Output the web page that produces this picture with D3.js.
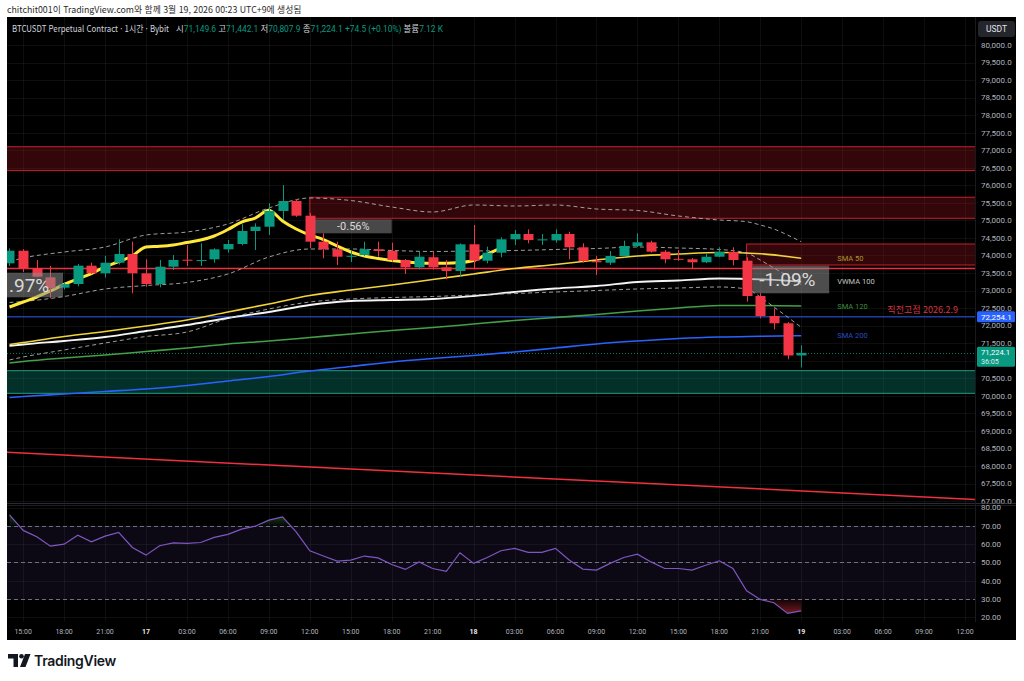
<!DOCTYPE html>
<html lang="ko">
<head>
<meta charset="utf-8">
<script src="https://cdn.jsdelivr.net/npm/d3@7/dist/d3.min.js"></script>
<style>
html,body{margin:0;padding:0;background:#fff;}
svg{display:block;}
</style>
</head>
<body>
<svg id="chart" width="1024" height="681"></svg>
<script>
// ---------------- DATA ----------------
// hour offsets relative to 2026-03-17 00:00 (UTC+9), 1h candles
const hours = d3.range(-10, 49);
const opens  = [73777,74136,73635,73378,73082,73187,73709,73492,73794,74042,
                73492,73187,73680,73880,73850,73891,74176,74327,74698,74820,
                75268,75553,75134,74393,74176,73965,74014,74176,74128,73871,
                73663,73950,73663,73558,74319,73851,74079,74461,74612,74430,
                74430,74612,74233,73843,73794,73985,74270,74375,74108,73905,
                73891,73806,73965,74099,73851,72845,72275,72067,71149.6];
const highs  = [74200,74180,73871,73700,73230,73760,73794,73985,74461,74393,
                73891,73871,74014,74299,74347,74205,74441,74889,74917,75487,
                76009,75610,75210,74632,74393,74136,74393,74393,74365,73900,
                74107,74107,73871,74347,74869,74250,74518,74727,74746,74612,
                74746,74678,74347,73985,74128,74422,74632,74422,74156,74156,
                73928,74061,74233,74233,73950,72922,72494,72100,71442.1];
const lows   = [73700,73529,73380,72779,73030,73120,73470,73367,73740,72922,
                73110,73093,73586,73700,73700,73794,74079,74290,74156,74584,
                75012,75100,74205,73920,73729,73814,73985,73965,73823,73472,
                73606,73600,73321,73395,73606,73777,73950,74299,74347,74299,
                74365,73891,73794,73443,73729,73950,74240,74080,73777,73850,
                73635,73780,73950,73720,72682,72209,71896,71040,70807.9];
const closes = [74136,73635,73395,73064,73187,73709,73492,73794,74042,73492,
                73187,73680,73871,73850,73870,74176,74327,74698,74820,75268,
                75553,75134,74393,74176,73965,73990,74176,74128,73871,73663,
                73965,73663,73558,74319,73851,74079,74461,74612,74441,74460,
                74612,74233,73843,73806,73985,74270,74375,74108,73891,73885,
                73806,73965,74099,73871,72845,72275,72067,71149.6,71224.1];
const volumeK = 7.12;

// fast (bold yellow) moving average, hours -10 .. 26
const fastHours = d3.range(-10, 27);
const fastMA = [72531,72674,72816,72988,73173,73330,73486,73672,73828,73985,
                74242,74262,74299,74370,74441,74555,74740,74954,75068,75290,
                74983,74755,74584,74455,74270,74099,73985,73914,73857,73814,
                73786,73777,73777,73800,73856,74042,74210];

// slow moving averages sampled every 3 h
const maHours = [-10,-9,-6,-3,0,3,6,9,12,15,18,21,24,27,30,33,36,39,42,45,48];
const sma50   = [71462,71519,71690,71833,71990,72161,72389,72617,72859,73016,73159,
                 73315,73472,73629,73743,73871,73985,74042,74085,74050,73920];
const vwma100 = [71420,71462,71562,71676,71847,72018,72218,72389,72588,72702,72731,
                 72759,72845,72959,73059,73130,73244,73287,73344,73321,73253];
const sma120  = [70935,70978,71078,71163,71263,71363,71477,71562,71662,71762,71862,
                 71947,72047,72147,72232,72318,72417,72503,72574,72574,72560];
const sma200  = [69952,69980,70051,70123,70194,70294,70422,70550,70707,70835,70964,
                 71063,71149,71249,71363,71477,71562,71633,71676,71696,71713];

// dashed band
const bandHours = [-10,-9,-6,-3,0,3,6,9,12,15,18,21,24,27,30,33,36,39,42,44,45,46,47,48];
const bandUpper = [73829,73928,74099,74242,74584,74669,74898,75354,75639,75567,75382,75240,
                   75439,75411,75439,75325,75282,75126,75012,74963,74869,74755,74584,74393];
const bandBasis = [72660,72688,72831,73045,73144,73230,73472,73957,74185,74185,74142,74114,
                   74128,74142,74171,74199,74242,74213,74171,74071,73871,73643,73415,73173];
const bandLower = [71021,71106,71306,71505,71690,71819,72204,72474,72674,72760,72802,72831,
                   72874,72916,72959,73002,73045,73073,73102,73045,72817,72531,72246,71953];

// RSI, hours -10 .. 48
const rsi = [76.0,67.5,64.0,58.9,60.0,64.9,61.3,64.4,66.4,58.2,
             54.0,59.1,60.7,60.4,60.9,63.7,65.3,68.2,69.8,73.1,
             74.9,66.7,56.4,53.5,50.7,51.3,53.5,52.5,48.9,46.2,
             50.3,46.7,45.1,55.3,49.5,52.7,56.4,57.7,55.5,55.5,
             57.7,51.3,46.4,45.8,49.5,52.7,54.5,50.3,46.7,46.7,
             45.8,48.5,50.9,46.7,34.5,29.8,28.0,22.2,23.6];

// drawings
const zoneNames  = ["sell1","sell2","sell3","buy1"];
const zoneFrom   = [-12, 12, 44, -12];
const zoneTop    = [77100, 75660, 74327, 70716];
const zoneBottom = [76420, 75060, 73729, 70071];
const zoneKind   = ["sell","sell","sell","buy"];

const resistLevel = 73630;
const prevHigh = 72254.1;
const prevHighLabel = "직전고점 2026.2.9";
const trendHours = [-11, 61];
const trendPrices = [68405, 67042];

const pctTexts  = ["-1.97%","-0.56%","-1.09%"];
const pctFrom   = [-11.7, 12.38, 44.44];
const pctTo     = [-6.08, 18.0, 50.05];
const pctTop    = [73509, 75031, 73709];
const pctBottom = [72808, 74632, 72922];

const maNames = ["SMA 50","VWMA 100","SMA 120","SMA 200"];

const priceTicks = d3.range(67000, 80001, 500);
const rsiTicks = [80,70,60,50,40,30,20];
const timeTickHours = d3.range(-9, 61, 3);
const timeTickLabels = ["15:00","18:00","21:00","17","03:00","06:00","09:00","12:00",
  "15:00","18:00","21:00","18","03:00","06:00","09:00","12:00",
  "15:00","18:00","21:00","19","03:00","06:00","09:00","12:00"];
const countdown = "36:05";

const caption = "chitchit001이 TradingView.com와 함께 3월 19, 2026 00:23 UTC+9에 생성됨";
const titleText = "BTCUSDT Perpetual Contract · 1시간 · Bybit";

// ---------------- LAYOUT ----------------
const W = 1024, H = 681;
const L = 7, R = 1016, T = 17, B = 640, PR = 975;
const MAIN_B = 503, RSI_T = 505, RSI_B = 622;
const UP = "#089981", DN = "#F23645";
const FONT = "Roboto, 'Noto Sans', sans-serif";
const KFONT = "'Noto Sans CJK KR', 'Noto Sans', sans-serif";

const x = d3.scaleLinear().domain([0, 48]).range([146, 801.2]);
const y = d3.scaleLinear().domain([67000, 80000]).range([501.04, 45]);
const yR = d3.scaleLinear().domain([20, 80]).range([617.4, 507.5]);

const svg = d3.select("#chart");
svg.append("rect").attr("width", W).attr("height", H).attr("fill", "#fff");

svg.append("text").attr("x", 7).attr("y", 13).attr("font-family", KFONT)
  .attr("font-size", 8.8).attr("fill", "#2b2b2b").text(caption);

svg.append("rect").attr("x", L).attr("y", T).attr("width", R - L).attr("height", B - T).attr("fill", "#000");

const defs = svg.append("defs");
defs.append("clipPath").attr("id", "clipMain").append("rect")
  .attr("x", L).attr("y", T).attr("width", PR - L).attr("height", MAIN_B - T);
defs.append("clipPath").attr("id", "clipRsi").append("rect")
  .attr("x", L).attr("y", RSI_T).attr("width", PR - L).attr("height", RSI_B - RSI_T);
defs.append("clipPath").attr("id", "clipMainAxis").append("rect")
  .attr("x", PR).attr("y", T).attr("width", R - PR).attr("height", MAIN_B + 0.5 - T);
defs.append("clipPath").attr("id", "clipRsiAxis").append("rect")
  .attr("x", PR).attr("y", RSI_T - 1).attr("width", R - PR).attr("height", RSI_B - RSI_T + 1);
defs.append("clipPath").attr("id", "clipOB").append("rect")
  .attr("x", L).attr("y", RSI_T).attr("width", PR - L).attr("height", yR(70) - RSI_T);
defs.append("clipPath").attr("id", "clipOS").append("rect")
  .attr("x", L).attr("y", yR(30)).attr("width", PR - L).attr("height", RSI_B - yR(30));
const gOB = defs.append("linearGradient").attr("id", "gOB").attr("x1", 0).attr("x2", 0)
  .attr("gradientUnits", "userSpaceOnUse").attr("y1", yR(80)).attr("y2", yR(70));
gOB.append("stop").attr("offset", 0).attr("stop-color", "rgba(76,175,80,0.55)");
gOB.append("stop").attr("offset", 1).attr("stop-color", "rgba(76,175,80,0.05)");
const gOS = defs.append("linearGradient").attr("id", "gOS").attr("x1", 0).attr("x2", 0)
  .attr("gradientUnits", "userSpaceOnUse").attr("y1", yR(30)).attr("y2", yR(20));
gOS.append("stop").attr("offset", 0).attr("stop-color", "rgba(242,54,69,0.05)");
gOS.append("stop").attr("offset", 1).attr("stop-color", "rgba(242,54,69,0.6)");

// grid
const grid = svg.append("g").attr("stroke", "rgba(255,255,255,0.055)").attr("stroke-width", 1);
timeTickHours.forEach(h => {
  const xx = Math.round(x(h)) + 0.5;
  grid.append("line").attr("x1", xx).attr("x2", xx).attr("y1", T).attr("y2", RSI_B);
});
priceTicks.forEach(p => {
  const yy = Math.round(y(p)) + 0.5;
  grid.append("line").attr("x1", L).attr("x2", PR).attr("y1", yy).attr("y2", yy);
});
rsiTicks.forEach(v => {
  const yy = Math.round(yR(v)) + 0.5;
  grid.append("line").attr("x1", L).attr("x2", PR).attr("y1", yy).attr("y2", yy);
});

// ---------------- MAIN PANE ----------------
const main = svg.append("g").attr("clip-path", "url(#clipMain)");

// zones
zoneNames.forEach((n, i) => {
  const sell = zoneKind[i] === "sell";
  const x0 = x(zoneFrom[i]);
  const y0 = y(zoneTop[i]), y1 = y(zoneBottom[i]);
  main.append("rect").attr("x", x0).attr("y", y0).attr("width", PR + 20 - x0).attr("height", y1 - y0)
    .attr("fill", sell ? "rgba(170,22,34,0.3)" : "rgba(8,153,129,0.32)")
    .attr("stroke", sell ? "#c4202e" : "#1f9c80").attr("stroke-width", 1);
});

// horizontal levels
main.append("line").attr("x1", L).attr("x2", PR).attr("y1", y(resistLevel)).attr("y2", y(resistLevel))
  .attr("stroke", "#e8303f").attr("stroke-width", 1.5);
main.append("line").attr("x1", L).attr("x2", PR).attr("y1", y(prevHigh)).attr("y2", y(prevHigh))
  .attr("stroke", "#1f3ea4").attr("stroke-width", 1.5);
main.append("line").attr("x1", x(trendHours[0])).attr("x2", x(trendHours[1]))
  .attr("y1", y(trendPrices[0])).attr("y2", y(trendPrices[1]))
  .attr("stroke", "#f0303f").attr("stroke-width", 1.5);

// current price dotted line
const lastClose = closes[closes.length - 1];
main.append("line").attr("x1", L).attr("x2", PR).attr("y1", Math.round(y(lastClose)) + 0.5).attr("y2", Math.round(y(lastClose)) + 0.5)
  .attr("stroke", UP).attr("stroke-width", 1).attr("stroke-dasharray", "1,2").attr("opacity", 0.8);

// moving averages
const smooth = d3.line().curve(d3.curveMonotoneX);
const maSeries = [sma200, sma120, vwma100, sma50];
const maColors = ["#2962ff", "#43a047", "#f5f5f5", "#f2d43a"];
const maWidths = [1.6, 1.6, 1.8, 1.6];
maSeries.forEach((s, k) => {
  main.append("path").attr("d", smooth(maHours.map((h, i) => [x(h), y(s[i])])))
    .attr("fill", "none").attr("stroke", maColors[k]).attr("stroke-width", maWidths[k]);
});

// dashed band
[bandUpper, bandBasis, bandLower].forEach(s => {
  main.append("path").attr("d", smooth(bandHours.map((h, i) => [x(h), y(s[i])])))
    .attr("fill", "none").attr("stroke", "#b8b8b8").attr("stroke-width", 1)
    .attr("stroke-dasharray", "4,3").attr("opacity", 0.85);
});

// fast MA (bold yellow)
main.append("path").attr("d", d3.line().curve(d3.curveMonotoneX)(fastHours.map((h, i) => [x(h), y(fastMA[i])])))
  .attr("fill", "none").attr("stroke", "#ffe83a").attr("stroke-width", 3).attr("stroke-linejoin", "round");

// candles
const candles = hours.map((h, i) => ({ h, o: opens[i], hi: highs[i], lo: lows[i], c: closes[i] }));
const cg = main.append("g");
cg.selectAll("line.wick").data(candles).join("line").attr("class", "wick")
  .attr("x1", d => Math.round(x(d.h)) + 0.5).attr("x2", d => Math.round(x(d.h)) + 0.5)
  .attr("y1", d => y(d.hi)).attr("y2", d => y(d.lo))
  .attr("stroke", d => d.c >= d.o ? UP : DN).attr("stroke-width", 1);
cg.selectAll("rect.body").data(candles).join("rect").attr("class", "body")
  .attr("x", d => Math.round(x(d.h)) - 4.5).attr("width", 10)
  .attr("y", d => y(Math.max(d.o, d.c)))
  .attr("height", d => Math.max(1, Math.abs(y(d.o) - y(d.c))))
  .attr("fill", d => d.c >= d.o ? UP : DN);

// percent boxes
pctTexts.forEach((t, i) => {
  const x0 = x(pctFrom[i]), x1 = x(pctTo[i]);
  const y0 = y(pctTop[i]), y1 = y(pctBottom[i]);
  const big = (y1 - y0) > 20;
  main.append("rect").attr("x", x0).attr("y", y0).attr("width", x1 - x0).attr("height", y1 - y0)
    .attr("fill", big ? "rgba(140,140,140,0.55)" : "rgba(120,120,120,0.6)");
  main.append("text").attr("x", (x0 + x1) / 2 - (big ? 3.5 : 0)).attr("y", (y0 + y1) / 2)
    .attr("dy", "0.36em").attr("text-anchor", "middle")
    .attr("font-family", FONT).attr("font-size", big ? 19 : 11)
    .attr("fill", "rgba(235,235,235,0.9)").text(t);
});

// previous high label
main.append("text").attr("x", 958).attr("y", y(prevHigh) - 4).attr("text-anchor", "end")
  .attr("font-family", KFONT).attr("font-size", 9).attr("fill", "#d9343f").text(prevHighLabel);

// MA labels
const maLast = [sma50, vwma100, sma120, sma200].map(s => s[s.length - 1]);
const maLabelColors = ["#b0942c", "#c4c4c4", "#3b8e3e", "#2a4cc0"];
maNames.forEach((n, i) => {
  svg.append("text").attr("x", x(48) + 36).attr("y", y(maLast[i])).attr("dy", "0.35em")
    .attr("font-family", FONT).attr("font-size", 7.5).attr("fill", maLabelColors[i]).text(n);
});

// ---------------- RSI PANE ----------------
const rp = svg.append("g").attr("clip-path", "url(#clipRsi)");
rp.append("rect").attr("x", L).attr("y", yR(70)).attr("width", PR - L).attr("height", yR(30) - yR(70))
  .attr("fill", "rgba(126,87,194,0.1)");
[70, 50, 30].forEach(v => {
  rp.append("line").attr("x1", L).attr("x2", PR).attr("y1", Math.round(yR(v)) + 0.5).attr("y2", Math.round(yR(v)) + 0.5)
    .attr("stroke", "#6d7080").attr("stroke-width", 1).attr("stroke-dasharray", "4,3");
});
const rsiPts = hours.map((h, i) => [x(h), yR(rsi[i])]);
rp.append("path").attr("clip-path", "url(#clipOB)")
  .attr("d", d3.area().x(d => d[0]).y0(yR(70)).y1(d => d[1])(rsiPts))
  .attr("fill", "url(#gOB)");
rp.append("path").attr("clip-path", "url(#clipOS)")
  .attr("d", d3.area().x(d => d[0]).y0(yR(30)).y1(d => d[1])(rsiPts))
  .attr("fill", "url(#gOS)");
rp.append("path").attr("d", d3.line()(rsiPts)).attr("fill", "none")
  .attr("stroke", "#7e57c2").attr("stroke-width", 1.2);

// pane separators
svg.append("line").attr("x1", L).attr("x2", R).attr("y1", 503.5).attr("y2", 503.5).attr("stroke", "#2a2a30");
svg.append("line").attr("x1", L).attr("x2", R).attr("y1", 505.5).attr("y2", 505.5).attr("stroke", "#1c1c22");
svg.append("line").attr("x1", PR + 0.5).attr("x2", PR + 0.5).attr("y1", T).attr("y2", RSI_B).attr("stroke", "#1a1a1e");

// ---------------- AXES ----------------
const fmtP = d3.format(",.1f");
svg.append("g").attr("clip-path", "url(#clipMainAxis)").selectAll("text").data(priceTicks).join("text")
  .attr("x", 981).attr("y", d => y(d)).attr("dy", "0.35em")
  .attr("font-family", FONT).attr("font-size", 8).attr("fill", "#b2b5be").text(d => fmtP(d));
svg.append("g").attr("clip-path", "url(#clipRsiAxis)").selectAll("text").data(rsiTicks).join("text")
  .attr("x", 981).attr("y", d => yR(d)).attr("dy", "0.35em")
  .attr("font-family", FONT).attr("font-size", 8).attr("fill", "#b2b5be").text(d => d3.format(".2f")(d));

svg.append("g").selectAll("text").data(timeTickHours).join("text")
  .attr("x", d => x(d)).attr("y", 632).attr("dy", "0.35em").attr("text-anchor", "middle")
  .attr("font-family", FONT).attr("font-size", 7)
  .attr("font-weight", (d, i) => timeTickLabels[i].length <= 2 ? "bold" : "normal")
  .attr("fill", (d, i) => timeTickLabels[i].length <= 2 ? "#e6e6e6" : "#b2b5be")
  .text((d, i) => timeTickLabels[i]);

// price labels on axis
const yPH = y(prevHigh);
svg.append("rect").attr("x", 977).attr("y", yPH - 5.5).attr("width", 38).attr("height", 11).attr("rx", 1.5).attr("fill", "#2962ff");
svg.append("text").attr("x", 981).attr("y", yPH).attr("dy", "0.35em").attr("font-family", FONT)
  .attr("font-size", 8).attr("fill", "#fff").text(fmtP(prevHigh));
const yLC = y(lastClose);
svg.append("rect").attr("x", 977).attr("y", yLC - 6).attr("width", 38).attr("height", 20).attr("rx", 1.5).attr("fill", UP);
svg.append("text").attr("x", 981).attr("y", yLC - 0.5).attr("dy", "0.35em").attr("font-family", FONT)
  .attr("font-size", 7.6).attr("fill", "#fff").text(fmtP(lastClose));
svg.append("text").attr("x", 981).attr("y", yLC + 9).attr("dy", "0.35em").attr("font-family", FONT)
  .attr("font-size", 7.2).attr("fill", "rgba(255,255,255,0.85)").text(countdown);

// USDT button
svg.append("rect").attr("x", 978).attr("y", 21).attr("width", 37).attr("height", 16).attr("rx", 3).attr("fill", "#24262b");
svg.append("text").attr("x", 996.5).attr("y", 29).attr("dy", "0.35em").attr("text-anchor", "middle")
  .attr("font-family", FONT).attr("font-size", 8.5).attr("fill", "#e0e3eb").text("USDT");

// ---------------- LEGEND ----------------
const o = opens[opens.length - 1], hh = highs[highs.length - 1], ll = lows[lows.length - 1];
const chg = lastClose - o;
svg.append("text").attr("x", 12).attr("y", 32).attr("font-family", KFONT).attr("font-size", 9)
  .attr("fill", "#d1d4dc").attr("textLength", 157).attr("lengthAdjust", "spacingAndGlyphs").text(titleText);
const legend = svg.append("text").attr("x", 176).attr("y", 32).attr("style", "white-space:pre")
  .attr("textLength", 267).attr("lengthAdjust", "spacingAndGlyphs");
const parts = [
  ["시", "#d1d4dc", KFONT, 8.6], [fmtP(o) + " ", UP, FONT, 8.6],
  ["고", "#d1d4dc", KFONT, 8.6], [fmtP(hh) + " ", UP, FONT, 8.6],
  ["저", "#d1d4dc", KFONT, 8.6], [fmtP(ll) + " ", UP, FONT, 8.6],
  ["종", "#d1d4dc", KFONT, 8.6], [fmtP(lastClose) + " ", UP, FONT, 8.6],
  ["+" + d3.format(".1f")(chg) + " (+" + d3.format(".2f")(chg / o * 100) + "%) ", UP, FONT, 8.6],
  ["볼륨", "#d1d4dc", KFONT, 8.6], [d3.format(".2f")(volumeK) + " K", UP, FONT, 8.6]
];
parts.forEach(p => legend.append("tspan").attr("fill", p[1]).attr("font-family", p[2]).attr("font-size", p[3]).text(p[0]));

// ---------------- FOOTER LOGO ----------------
const logo = svg.append("g").attr("fill", "#131722");
logo.append("path").attr("d", "M8 654 H18 V667 H13.5 V658.5 H8 Z");
logo.append("circle").attr("cx", 21.5).attr("cy", 656.3).attr("r", 2.3);
logo.append("path").attr("d", "M25 654 H30.5 L25.5 667 H20 Z");
svg.append("text").attr("x", 34).attr("y", 666).attr("font-family", "Inter, Roboto, sans-serif")
  .attr("font-size", 14).attr("font-weight", 600).attr("fill", "#131722").attr("letter-spacing", -0.3).text("TradingView");
</script>
</body>
</html>
